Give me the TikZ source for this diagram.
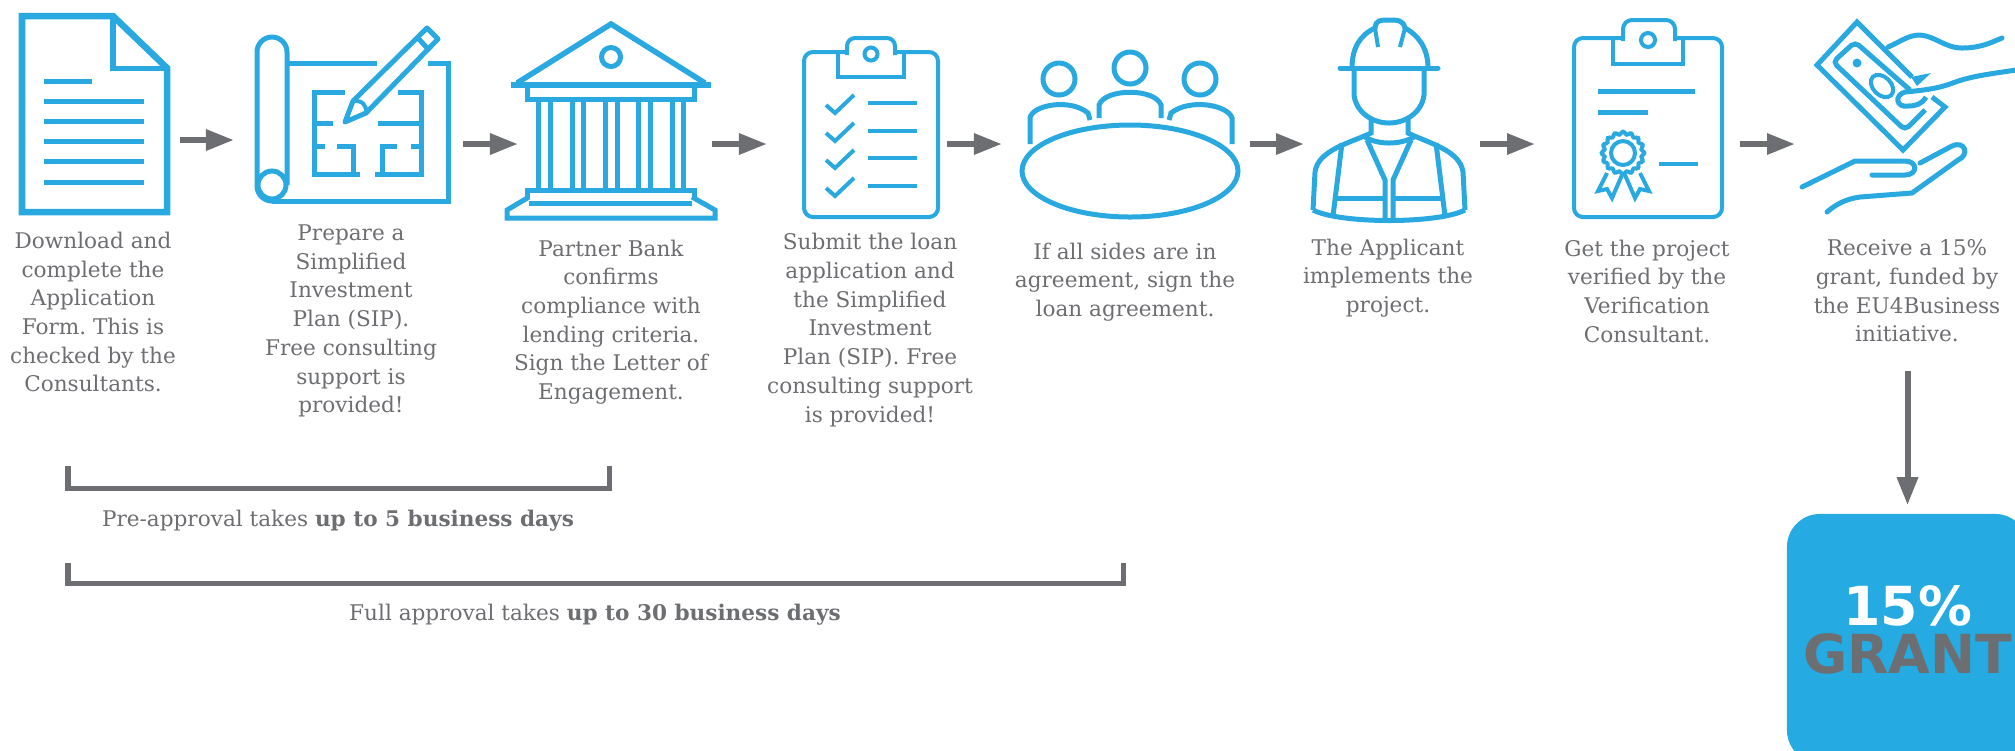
\documentclass[tikz,border=0pt]{standalone}
\usepackage{fontspec}
\setmainfont{DejaVu Serif}
\newfontfamily\grantfont{DejaVu Sans}
\usetikzlibrary{calc, arrows.meta}
\definecolor{icon_blue}{HTML}{2AA9E0}
\definecolor{box_blue}{HTML}{25AAE1}
\definecolor{arrow_gray}{HTML}{6D6E71}
\tikzset{
    icon_line/.style = {draw = icon_blue, line width = 0.05cm},
    thin_line/.style = {draw = icon_blue, line width = 0.04cm},
    gray_arrow/.style = {draw = arrow_gray, line width = 0.06cm, -{Triangle[length = 0.28cm, width = 0.2cm]}},
    time_bracket/.style = {draw = arrow_gray, line width = 0.05cm},
    step_text/.style = {align = center, text = arrow_gray, font = \fontsize{6.14pt}{8.16pt}\selectfont\frenchspacing, inner sep = 0pt},
    grant_box/.style = {fill = box_blue, rounded corners = 0.33cm, minimum width = 2.41cm, minimum height = 2.49cm, inner sep = 0pt},
    grant_text/.style = {anchor = base, inner sep = 0pt, font = \grantfont\bfseries\fontsize{15.3pt}{15.3pt}\selectfont}
}

\begin{document}
\begin{tikzpicture}[x = 0.01cm, y = -0.01cm]
            \useasboundingbox (0, 0) rectangle (2015, 750);
            \clip (0, 0) rectangle (2015, 750);

            \coordinate (doc_right) at (180, 140);
            \coordinate (plan_left) at (234, 140);
            \coordinate (plan_right) at (463, 144);
            \coordinate (bank_left) at (518, 144);
            \coordinate (bank_right) at (712, 144);
            \coordinate (list_left) at (767, 144);
            \coordinate (list_right) at (947, 144);
            \coordinate (table_left) at (1002, 144);
            \coordinate (table_right) at (1250, 144);
            \coordinate (worker_left) at (1304, 144);
            \coordinate (worker_right) at (1480, 144);
            \coordinate (cert_left) at (1535, 144);
            \coordinate (cert_right) at (1740, 144);
            \coordinate (money_left) at (1795, 144);
            \coordinate (money_down) at (1907.5, 371);

            % application form
            \draw[icon_line, line width = 0.065cm, line join = miter](113, 16) -- (22, 16) -- (22, 212) -- (167, 212) -- (167, 68) -- cycle;
            \draw[icon_line](113, 16) -- (113, 68) -- (167, 68);
            \draw[icon_line](44, 81) -- (92, 81);
            \draw[icon_line](44, 101) -- (144, 101);
            \draw[icon_line](44, 121) -- (144, 121);
            \draw[icon_line](44, 141) -- (144, 141);
            \draw[icon_line](44, 161) -- (144, 161);
            \draw[icon_line](44, 182) -- (144, 182);

            % blueprint and pencil
            \draw[icon_line, rounded corners = 0.15cm](287, 185) -- (287, 37) -- (257, 37) -- (257, 201) -- (272, 201);
            \draw[icon_line](272, 185) circle (14);
            \draw[icon_line](287, 63) -- (377, 63);
            \draw[icon_line](428, 63) -- (448, 63) -- (448, 201) -- (272, 201);
            \draw[icon_line](345, 92) -- (314, 92) -- (314, 174) -- (360, 174);
            \draw[icon_line](398, 92) -- (421, 92) -- (421, 174) -- (375, 174);
            \draw[icon_line](314, 123) -- (333, 123);
            \draw[icon_line](378, 123) -- (421, 123);
            \draw[icon_line](314, 146) -- (325, 146);
            \draw[icon_line](337, 146) -- (353, 146) -- (353, 174);
            \draw[icon_line](382, 174) -- (382, 146) -- (397, 146);
            \draw[icon_line](411, 146) -- (421, 146);
            \draw[icon_line, line join = round](345, 122) -- (353, 101) -- (427, 28) -- (438, 39) -- (366, 113) -- cycle;
            \draw[icon_line](417, 37) -- (428, 49);
            \draw[thin_line](353, 101) .. controls (362, 100) and (367, 105) .. (366, 113);

            % bank
            \draw[icon_line, line width = 0.055cm, line join = miter](517, 83) -- (611, 24) -- (705, 83);
            \draw[icon_line, line width = 0.06cm](511, 85) -- (711, 85);
            \draw[icon_line](611, 57) circle (9.5);
            \draw[icon_line](527, 85) -- (527, 99) -- (694, 99) -- (694, 85);
            \draw[icon_line](538, 99) -- (538, 190);
            \draw[icon_line](550, 99) -- (550, 190);
            \draw[icon_line](572, 99) -- (572, 190);
            \draw[icon_line](583, 99) -- (583, 190);
            \draw[icon_line](605, 99) -- (605, 190);
            \draw[icon_line](617, 99) -- (617, 190);
            \draw[icon_line](638, 99) -- (638, 190);
            \draw[icon_line](650, 99) -- (650, 190);
            \draw[icon_line](672, 99) -- (672, 190);
            \draw[icon_line](683, 99) -- (683, 190);
            \draw[icon_line](527, 198) -- (527, 190) -- (694, 190) -- (694, 198);
            \draw[icon_line](529, 203) -- (692, 203);
            \draw[icon_line](529, 197) -- (507, 210) -- (507, 218) -- (715, 218) -- (715, 210) -- (692, 197);

            % checklist
            \draw[thin_line, rounded corners = 0.09cm](847, 52) -- (804, 52) -- (804, 217) -- (938, 217) -- (938, 52) -- (895, 52);
            \draw[thin_line, rounded corners = 0.08cm](847, 55) -- (847, 38) -- (895, 38) -- (895, 55);
            \draw[thin_line](847, 52) -- (838, 52) -- (838, 77) -- (904, 77) -- (904, 52) -- (895, 52);
            \draw[thin_line](871, 54) circle (6.5);
            \draw[thin_line](826, 105) -- (835, 113) -- (854, 95);
            \draw[thin_line](826, 133) -- (835, 141) -- (854, 123);
            \draw[thin_line](826, 160) -- (835, 168) -- (854, 150);
            \draw[thin_line](826, 188) -- (835, 196) -- (854, 178);
            \draw[thin_line](868, 103) -- (917, 103);
            \draw[thin_line](868, 131) -- (917, 131);
            \draw[thin_line](868, 158) -- (917, 158);
            \draw[thin_line](868, 186) -- (917, 186);

            % meeting table
            \draw[icon_line](1130, 171) ellipse (108 and 46);
            \draw[icon_line](1059, 79) circle (16);
            \draw[icon_line](1130, 68) circle (16);
            \draw[icon_line](1200, 79) circle (16);
            \draw[icon_line](1030, 144) -- (1030, 118) .. controls (1032, 105) and (1070, 98) .. (1088, 113) -- (1090, 120);
            \draw[icon_line](1099, 118) -- (1099, 105) .. controls (1105, 88) and (1155, 88) .. (1161, 105) -- (1161, 118);
            \draw[icon_line](1169, 120) -- (1171, 113) .. controls (1190, 98) and (1228, 105) .. (1232, 118) -- (1232, 144);

            % site worker
            \draw[icon_line, line cap = round](1340, 68) -- (1438, 68);
            \draw[icon_line](1352, 68) .. controls (1352, 48) and (1360, 35) .. (1375, 28) .. controls (1376, 20) and (1380, 20) .. (1388, 20) .. controls (1398, 20) and (1403, 20) .. (1405, 28) .. controls (1418, 35) and (1428, 48) .. (1428, 68);
            \draw[thin_line](1375, 28) -- (1378, 47);
            \draw[thin_line](1405, 28) -- (1400, 47);
            \draw[icon_line](1354, 68) -- (1354, 95) .. controls (1356, 112) and (1372, 123) .. (1389, 123) .. controls (1406, 123) and (1422, 112) .. (1424, 95) -- (1424, 68);
            \draw[icon_line](1371, 118) -- (1371, 133) .. controls (1350, 143) and (1318, 150) .. (1315, 172) -- (1313, 210);
            \draw[icon_line](1408, 118) -- (1408, 133) .. controls (1428, 143) and (1460, 150) .. (1463, 172) -- (1465, 210);
            \draw[icon_line](1365, 137) .. controls (1378, 145) and (1400, 145) .. (1414, 137);
            \draw[icon_line](1313, 210) .. controls (1340, 224) and (1438, 224) .. (1465, 210);
            \draw[icon_line](1342, 143) -- (1333, 216);
            \draw[icon_line](1436, 143) -- (1445, 216);
            \draw[icon_line](1367, 140) -- (1385, 180) -- (1385, 221);
            \draw[icon_line](1411, 140) -- (1393, 180) -- (1393, 221);
            \draw[icon_line](1335, 198) -- (1385, 198);
            \draw[icon_line](1393, 198) -- (1443, 198);

            % certificate
            \draw[thin_line, rounded corners = 0.09cm](1623, 38) -- (1574, 38) -- (1574, 217) -- (1722, 217) -- (1722, 38) -- (1675, 38);
            \draw[thin_line, rounded corners = 0.09cm](1623, 41) -- (1623, 20) -- (1675, 20) -- (1675, 41);
            \draw[thin_line](1623, 38) -- (1613, 38) -- (1613, 64) -- (1683, 64) -- (1683, 38) -- (1675, 38);
            \draw[thin_line](1648, 40) circle (7);
            \draw[icon_line](1598, 91) -- (1695, 91);
            \draw[icon_line](1598, 112) -- (1648, 112);
            \draw[thin_line](1659, 164) -- (1698, 164);
            \draw[thin_line](1623, 153) circle (12);
            \draw[thin_line] plot[domain = 0:360, samples = 97, smooth] ({1623 + (20 + 1.3 * cos(16 * \x)) * cos(\x)}, {153 + (20 + 1.3 * cos(16 * \x)) * sin(\x)}) -- cycle;
            \draw[thin_line](1607, 173) -- (1598, 191) -- (1607, 189) -- (1612, 198) -- (1622, 175);
            \draw[thin_line](1640, 173) -- (1649, 191) -- (1640, 189) -- (1635, 198) -- (1625, 175);

            % money and hands
            \draw[icon_line, line join = miter](1912, 77) -- (1857, 22) -- (1817, 65) -- (1903, 150) -- (1945, 107) -- (1932, 97);
            \draw[icon_line, rounded corners = 0.05cm](1910, 90) -- (1855, 42) -- (1833, 62) -- (1905, 130) -- (1925, 110);
            \fill[icon_blue](1857, 63) circle (4.5);
            \draw[thin_line, rotate around = {-45:(1882, 86)}](1882, 86) ellipse (13 and 9);
            \draw[icon_line, line cap = round](1888, 47) .. controls (1900, 42) and (1908, 35) .. (1920, 35) .. controls (1935, 36) and (1945, 48) .. (1962, 48) .. controls (1980, 48) and (1990, 43) .. (2002, 38);
            \draw[icon_line](2016, 70) .. controls (1990, 74) and (1970, 76) .. (1950, 84) .. controls (1935, 89) and (1925, 90) .. (1905, 92) .. controls (1894, 95) and (1896, 108) .. (1908, 106) .. controls (1916, 106) and (1922, 104) .. (1926, 97);
            \fill[icon_blue](1911, 77) -- (1931, 73) -- (1917, 86) -- cycle;
            \draw[icon_line, line cap = round](1802, 187) -- (1855, 161) -- (1905, 161) .. controls (1918, 161) and (1918, 175) .. (1905, 175) -- (1872, 175);
            \draw[icon_line, line cap = round](1920, 163) -- (1952, 146) .. controls (1965, 140) and (1970, 155) .. (1958, 160) -- (1912, 193) -- (1860, 197) .. controls (1845, 199) and (1835, 205) .. (1827, 212);

            % step labels
            \node[step_text] (form_text) at (93, 312) {Download and\\complete the\\Application\\Form. This is\\checked by the\\Consultants.};
            \node[step_text] (plan_text) at (351, 321) {Prepare a\\Simplified\\Investment\\Plan (SIP).\\Free consulting\\support is\\provided!};
            \node[step_text] (bank_text) at (611, 322) {Partner Bank\\confirms\\compliance with\\lending criteria.\\Sign the Letter of\\Engagement.};
            \node[step_text] (list_text) at (870, 330) {Submit the loan\\application and\\the Simplified\\Investment\\Plan (SIP). Free\\consulting support\\is provided!};
            \node[step_text] (table_text) at (1125, 282) {If all sides are in\\agreement, sign the\\loan agreement.};
            \node[step_text] (worker_text) at (1388, 278) {The Applicant\\implements the\\project.};
            \node[step_text] (cert_text) at (1647, 291) {Get the project\\verified by the\\Verification\\Consultant.};
            \node[step_text] (money_text) at (1907, 291) {Receive a 15\%\\grant, funded by\\the EU4Business\\initiative.};

            % approval times
            \coordinate (pre_start) at (68, 466);
            \coordinate (pre_end) at (609, 466);
            \coordinate (full_start) at (68, 563);
            \coordinate (full_end) at (1123, 563);
            \draw[time_bracket](pre_start) -- (68, 488) -- (609, 488) -- (pre_end);
            \draw[time_bracket](full_start) -- (68, 583) -- (1123, 583) -- (full_end);
            \node[step_text] (pre_text) at (338, 521) {Pre-approval takes \textbf{up to 5 business days}};
            \node[step_text] (full_text) at (595, 615) {Full approval takes \textbf{up to 30 business days}};

            % grant box
            \node[grant_box] (grant) at (1907.5, 638.5) {};
            \node[grant_text, text = white] (grant_top) at (1907.5, 625) {15\%};
            \node[grant_text, text = arrow_gray] (grant_bottom) at (1907.5, 673) {GRANT};

            % arrows between steps
            \draw[gray_arrow](doc_right) -- (plan_left);
            \draw[gray_arrow](plan_right) -- (bank_left);
            \draw[gray_arrow](bank_right) -- (list_left);
            \draw[gray_arrow](list_right) -- (table_left);
            \draw[gray_arrow](table_right) -- (worker_left);
            \draw[gray_arrow](worker_right) -- (cert_left);
            \draw[gray_arrow](cert_right) -- (money_left);
            \draw[gray_arrow, shorten >= 0.08cm](money_down) -- (grant.north);
        \end{tikzpicture}
\end{document}
